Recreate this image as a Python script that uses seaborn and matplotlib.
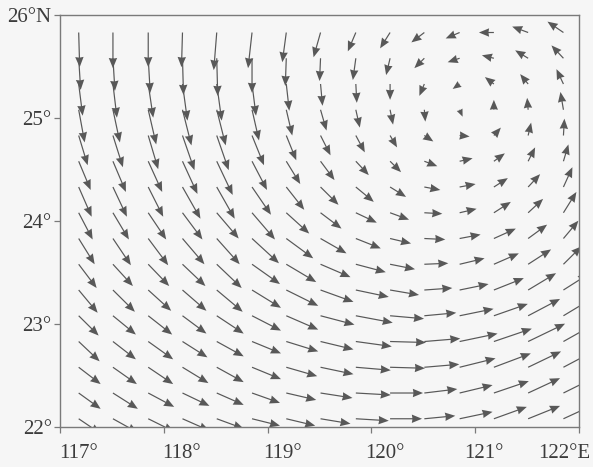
import numpy as np
import matplotlib
matplotlib.use("Agg")
import matplotlib.pyplot as plt
import matplotlib.transforms as mtransforms
import seaborn as sns

# ---- data ----
lons = [117.18, 117.51, 117.85, 118.18, 118.51, 118.85, 119.18, 119.51,
        119.85, 120.18, 120.51, 120.85, 121.18, 121.51, 121.85]
lats = [25.83, 25.58, 25.33, 25.08, 24.83, 24.58, 24.33, 24.08,
        23.83, 23.58, 23.33, 23.08, 22.83, 22.58, 22.33, 22.08]

# eastward component, rows from north (top) to south (bottom)
U = [
    [1, 0, 0, -1, -3, -4, -4, -7, -8, -10, -13, -14, -15, -16, -16],
    [2, 2, 2, 1, 1, 0, -1, -1, -3, -4, -10, -12, -12, -13, -12],
    [4, 4, 5, 5, 5, 4, 3, 2, 1, 0, -5, -7, -9, -8, -7],
    [6, 7, 8, 9, 9, 7, 6, 6, 4, 3, 1, 3, 0, -1, -3],
    [9, 10, 10, 12, 12, 12, 10, 10, 9, 7, 9, 10, 7, 3, 1],
    [12, 13, 14, 15, 16, 15, 14, 14, 13, 11, 13, 13, 11, 7, 5],
    [13, 14, 15, 18, 18, 19, 18, 18, 18, 16, 16, 16, 14, 12, 9],
    [14, 16, 18, 20, 22, 23, 23, 21, 21, 19, 18, 17, 17, 15, 13],
    [16, 18, 20, 22, 23, 27, 27, 26, 25, 21, 21, 21, 22, 19, 15],
    [18, 20, 21, 23, 25, 28, 30, 30, 30, 25, 24, 25, 25, 23, 18],
    [19, 22, 23, 24, 26, 29, 32, 33, 33, 29, 28, 29, 30, 28, 25],
    [20, 23, 24, 24, 27, 29, 32, 34, 37, 34, 32, 34, 34, 32, 28],
    [21, 23, 25, 25, 27, 29, 32, 33, 36, 36, 36, 38, 38, 37, 30],
    [22, 24, 25, 26, 27, 29, 31, 33, 35, 35, 35, 36, 37, 33, 30],
    [22, 25, 26, 27, 27, 28, 30, 32, 35, 33, 33, 33, 35, 32, 28],
    [22, 25, 26, 27, 27, 28, 29, 30, 33, 32, 31, 33, 33, 32, 28],
]
# northward component
V = [
    [-35, -36, -35, -35, -38, -36, -30, -25, -19, -16, -10, -6, 0, 6, 11],
    [-32, -33, -35, -37, -38, -35, -28, -23, -22, -17, -10, -4, 3, 8, 13],
    [-32, -34, -34, -37, -37, -32, -27, -22, -19, -16, -12, -5, 7, 10, 15],
    [-33, -33, -35, -36, -36, -31, -26, -21, -18, -15, -12, -7, 10, 12, 18],
    [-30, -32, -34, -35, -35, -30, -25, -20, -17, -12, -6, -1, 8, 13, 17],
    [-29, -31, -31, -33, -34, -29, -23, -19, -14, -11, -5, 3, 8, 14, 17],
    [-30, -30, -30, -32, -32, -28, -23, -18, -15, -10, -3, 3, 9, 13, 20],
    [-27, -27, -27, -27, -26, -27, -21, -16, -10, -7, -1, 4, 11, 14, 21],
    [-26, -27, -27, -26, -26, -25, -20, -15, -10, -5, -1, 4, 10, 14, 18],
    [-24, -22, -22, -22, -24, -20, -18, -13, -8, -5, 1, 6, 11, 15, 18],
    [-23, -22, -21, -21, -22, -18, -16, -12, -7, -5, 2, 6, 12, 17, 16],
    [-20, -19, -19, -18, -18, -15, -14, -9, -7, -3, 3, 7, 12, 17, 17],
    [-20, -18, -18, -16, -15, -12, -10, -8, -5, -1, 3, 8, 13, 18, 17],
    [-17, -17, -17, -16, -15, -12, -9, -7, -3, -1, 3, 9, 14, 16, 16],
    [-16, -16, -14, -13, -12, -10, -7, -5, -2, 0, 4, 8, 12, 15, 14],
    [-15, -14, -13, -12, -10, -7, -7, -5, -2, 0, 3, 7, 12, 13, 13],
]

xticks = [117, 118, 119, 120, 121, 122]
xlabels = ["117°", "118°", "119°", "120°", "121°", "122°E"]
yticks = [22, 23, 24, 25, 26]
ylabels = ["22°", "23°", "24°", "25°", "26°N"]

# ---- style ----
sns.set_style("white")
plt.rcParams["font.family"] = ["Liberation Serif", "DejaVu Serif"]

bg = "#f6f6f6"
ink = "#3c3c3c"
arrow_col = "#585858"

fig = plt.figure(figsize=(5.93, 4.67), dpi=100, facecolor=bg)
ax = fig.add_axes([60 / 593, 40 / 467, 519 / 593, 412 / 467])
ax.set_facecolor(bg)

X, Y = np.meshgrid(lons, lats)
ax.quiver(X, Y, np.array(U, float), np.array(V, float),
          angles="xy", scale_units="xy", scale=104,
          units="dots", width=1.2, headwidth=7, headlength=8.5,
          headaxislength=8, color=arrow_col, pivot="tail", zorder=2)

ax.set_xlim(117, 122)
ax.set_ylim(22, 26)
ax.set_xticks(xticks)
ax.set_xticklabels(xlabels)
ax.set_yticks(yticks)
ax.set_yticklabels(ylabels)

for sp in ax.spines.values():
    sp.set_color("#7a7a7a")
    sp.set_linewidth(1.0)

ax.tick_params(axis="both", direction="out", length=4, width=0.9,
               color="#7a7a7a", labelsize=15, labelcolor=ink)
ax.tick_params(axis="x", pad=8)
ax.tick_params(axis="y", pad=2)
ax.tick_params(axis="both", which="both", bottom=True, left=True)

# scanned-layout label shifts (pixels)
shifts = [19, 18, 15, 13, 9, -15]
for lab, dx in zip(ax.get_xticklabels(), shifts):
    lab.set_transform(lab.get_transform() +
                      mtransforms.ScaledTranslation(dx / 100, 0, fig.dpi_scale_trans))

fig.savefig("out.png", dpi=100, facecolor=bg)
